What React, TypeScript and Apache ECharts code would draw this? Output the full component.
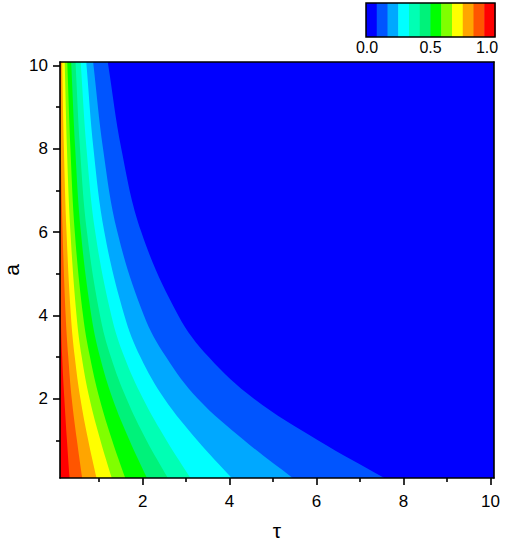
import React, { useEffect, useRef } from "react";
import * as echarts from "echarts";

// contour band colours, from lowest (0.0) to highest (1.0)
const bandColors = [
  "#0000FF", "#0055FF", "#00A8FF", "#00FFFF", "#00FFB4", "#00F27A",
  "#00FF00", "#80FF00", "#FFFF00", "#FFA500", "#FF5500", "#FF0000",
];
// contour levels (boundaries between the bands)
const levels = [1, 2, 3, 4, 5, 6, 7, 8, 9, 10, 11].map((k) => k / 12);
const legendLabels = ["0.0", "0.5", "1.0"];
const xMajorTicks = [2, 4, 6, 8, 10];
const xMinorTicks = [1, 3, 5, 7, 9];
const yMajorTicks = [2, 4, 6, 8, 10];
const yMinorTicks = [1, 3, 5, 7, 9];

// a values at which the contour positions were read
const aRows = [0.1, 1, 2, 3, 4, 6, 8, 10];
// tau position of each contour (level 1/12 ... 11/12) at each a row
const tauAtA0_1 = [7.56, 5.45, 4.05, 3.1, 2.58, 2.1, 1.6, 1.29, 0.94, 0.61, 0.32];
const tauAtA1 = [6.04, 4.34, 3.26, 2.55, 2.09, 1.7, 1.3, 1.03, 0.75, 0.49, 0.26];
const tauAtA2 = [4.56, 3.27, 2.5, 2.01, 1.63, 1.31, 1.01, 0.78, 0.57, 0.37, 0.2];
const tauAtA3 = [3.52, 2.54, 1.95, 1.58, 1.27, 1.02, 0.79, 0.6, 0.44, 0.29, 0.15];
const tauAtA4 = [2.82, 2.03, 1.58, 1.28, 1.02, 0.82, 0.63, 0.48, 0.35, 0.23, 0.12];
const tauAtA6 = [1.97, 1.42, 1.12, 0.91, 0.72, 0.58, 0.44, 0.34, 0.25, 0.16, 0.1];
const tauAtA8 = [1.51, 1.09, 0.87, 0.71, 0.56, 0.45, 0.34, 0.26, 0.19, 0.12, 0.1];
const tauAtA10 = [1.21, 0.87, 0.71, 0.58, 0.46, 0.36, 0.27, 0.21, 0.15, 0.11, 0.1];
const tauRows = [tauAtA0_1, tauAtA1, tauAtA2, tauAtA3, tauAtA4, tauAtA6, tauAtA8, tauAtA10];

const AX_MIN = 0.1;
const AX_MAX = 10.08;
const FONT = "Liberation Sans, Arial, sans-serif";

function extend(p: number[], q: number[], len: number) {
  const dx = p[0] - q[0];
  const dy = p[1] - q[1];
  const d = Math.hypot(dx, dy) || 1;
  return [p[0] + (dx / d) * len, p[1] + (dy / d) * len];
}

export default function App() {
  const ref = useRef<HTMLDivElement>(null);
  useEffect(() => {
    if (!ref.current) return;
    const chart = echarts.init(ref.current, null, { renderer: "svg" });

    const lineStyle = { color: "#000", width: 1.6 };
    const common = { type: "value", min: AX_MIN, max: AX_MAX, splitLine: { show: false }, z: 10 };

    const legendX = 366;
    const legendW = 129;
    const legendY = 3;
    const legendH = 34;
    const seg = legendW / bandColors.length;
    const graphics: any[] = bandColors.map((c, i) => ({
      type: "rect",
      shape: { x: legendX + i * seg, y: legendY, width: seg + 0.5, height: legendH },
      style: { fill: c },
    }));
    graphics.push({
      type: "rect",
      shape: { x: legendX, y: legendY, width: legendW, height: legendH },
      style: { fill: "none", stroke: "#000", lineWidth: 1.5 },
    });
    const labelX = [legendX + 1, legendX + legendW / 2, legendX + legendW - 8];
    legendLabels.forEach((t, i) => {
      graphics.push({
        type: "text",
        x: labelX[i],
        y: 47,
        style: { text: t, fill: "#000", font: `16px ${FONT}`, align: "center", verticalAlign: "middle" },
      });
    });

    chart.setOption({
      animation: false,
      grid: {
        left: 60, right: 11, top: 62, bottom: 66,
        containLabel: false, outerBoundsMode: "none",
        show: true, backgroundColor: bandColors[0], borderWidth: 0,
      },
      xAxis: [
        {
          ...common, position: "bottom",
          name: "τ", nameLocation: "middle", nameGap: 42, nameMoveOverlap: false,
          nameTextStyle: { fontSize: 21, fontFamily: FONT, color: "#000" },
          axisLine: { lineStyle },
          axisTick: { show: true, length: 7, lineStyle, customValues: xMajorTicks },
          axisLabel: { customValues: xMajorTicks, fontSize: 17, fontFamily: FONT, color: "#000", margin: 15 },
        },
        {
          ...common, position: "bottom", offset: 0,
          axisLine: { show: false },
          axisTick: { show: true, length: 4, lineStyle, customValues: xMinorTicks },
          axisLabel: { show: false },
        },
        {
          ...common, position: "top", offset: 0,
          axisLine: { show: true, lineStyle },
          axisTick: { show: false },
          axisLabel: { show: false },
        },
      ],
      yAxis: [
        {
          ...common, position: "left",
          name: "a", nameLocation: "middle", nameGap: 38, nameRotate: 90, nameMoveOverlap: false,
          nameTextStyle: { fontSize: 21, fontFamily: FONT, color: "#000" },
          axisLine: { lineStyle },
          axisTick: { show: true, length: 7, lineStyle, customValues: yMajorTicks },
          axisLabel: { customValues: yMajorTicks, fontSize: 17, fontFamily: FONT, color: "#000", margin: 12 },
        },
        {
          ...common, position: "left", offset: 0,
          axisLine: { show: false },
          axisTick: { show: true, length: 4, lineStyle, customValues: yMinorTicks },
          axisLabel: { show: false },
        },
        {
          ...common, position: "right", offset: 0,
          axisLine: { show: true, lineStyle },
          axisTick: { show: false },
          axisLabel: { show: false },
        },
      ],
      series: [
        {
          type: "custom",
          xAxisIndex: 0,
          yAxisIndex: 0,
          clip: true,
          z: 2,
          data: levels.map((l, i) => [i, l]),
          renderItem: (params: any, api: any) => {
            const i = params.dataIndex;
            const cs = params.coordSys;
            const pts = tauRows.map((row, r) => api.coord([row[i], aRows[r]]));
            const n = pts.length;
            const extB = extend(pts[0], pts[1], 40);
            const extT = extend(pts[n - 1], pts[n - 2], 40);
            const left = cs.x - 80;
            const points = [[left, extB[1]], extB, ...pts, extT, [left, extT[1]]];
            return {
              type: "polygon",
              shape: { points, smooth: 0.38 },
              style: { fill: bandColors[i + 1] },
            };
          },
        },
      ],
      graphic: graphics,
    });
    return () => chart.dispose();
  }, []);
  return (
    <div
      ref={ref}
      style={{ position: "fixed", left: 0, top: 0, width: 505, height: 544, background: "#fff" }}
    />
  );
}
